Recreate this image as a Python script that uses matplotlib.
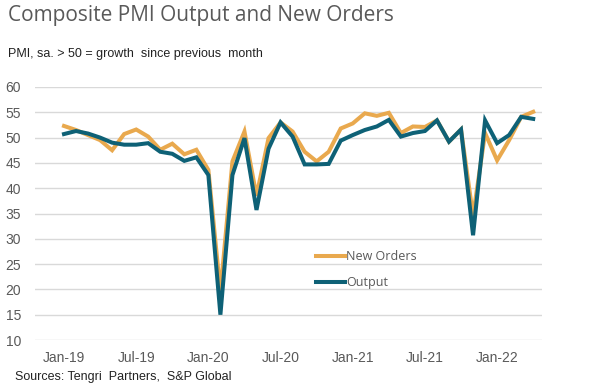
import matplotlib
matplotlib.use("Agg")
import matplotlib.pyplot as plt

months = ["Jan-19","Feb-19","Mar-19","Apr-19","May-19","Jun-19","Jul-19","Aug-19","Sep-19","Oct-19","Nov-19","Dec-19",
          "Jan-20","Feb-20","Mar-20","Apr-20","May-20","Jun-20","Jul-20","Aug-20","Sep-20","Oct-20","Nov-20","Dec-20",
          "Jan-21","Feb-21","Mar-21","Apr-21","May-21","Jun-21","Jul-21","Aug-21","Sep-21","Oct-21","Nov-21","Dec-21",
          "Jan-22","Feb-22","Mar-22","Apr-22"]

new_orders = [52.3, 51.5, 50.5, 49.5, 47.5, 50.7, 51.6, 50.2, 47.6, 48.8, 46.7, 47.6,
              43.6, 19.5, 45.3, 51.2, 38.5, 49.9, 53.0, 51.2, 47.2, 45.3, 47.2, 51.8,
              52.8, 54.8, 54.3, 54.9, 50.9, 52.2, 52.1, 53.4, 49.2, 51.6, 34.5, 50.9,
              45.5, 49.5, 54.1, 55.1]

output = [50.7, 51.3, 50.8, 50.0, 49.0, 48.6, 48.6, 48.9, 47.2, 46.8, 45.4, 46.1,
          42.6, 15.0, 42.6, 49.9, 35.7, 47.8, 53.0, 50.2, 44.7, 44.7, 44.8, 49.4,
          50.5, 51.5, 52.2, 53.5, 50.2, 50.9, 51.3, 53.4, 49.2, 51.6, 30.7, 53.4,
          48.9, 50.5, 54.1, 53.7]

yticks = [10, 15, 20, 25, 30, 35, 40, 45, 50, 55, 60]
xtick_labels = ["Jan-19", "Jul-19", "Jan-20", "Jul-20", "Jan-21", "Jul-21", "Jan-22"]

orange = "#E9A94E"
teal = "#0E6176"
gray_text = "#595959"

W, H = 591, 391
fig = plt.figure(figsize=(W / 100, H / 100), dpi=100)
ax = fig.add_axes([35 / W, 1 - 340 / H, 507 / W, 253 / H])

x = list(range(len(months)))
ax.plot(x, new_orders, color=orange, lw=2.9, label="New Orders", solid_joinstyle="miter", zorder=3)
ax.plot(x, output, color=teal, lw=2.9, label="Output", solid_joinstyle="miter", zorder=4)

ax.set_ylim(10, 60)
ax.set_xlim(-2.41, 39.73)
ax.set_yticks(yticks)
ax.set_yticklabels([str(v) for v in yticks])
xt = [months.index(m) for m in xtick_labels]
ax.set_xticks(xt)
ax.set_xticklabels(xtick_labels)

ax.grid(axis="y", color="#D9D9D9", lw=1.0)
ax.set_axisbelow(True)
for s in ax.spines.values():
    s.set_visible(False)
ax.tick_params(axis="both", length=0, colors=gray_text, labelsize=10)
ax.tick_params(axis="y", pad=10)
ax.tick_params(axis="x", pad=8)
for lab in ax.get_xticklabels() + ax.get_yticklabels():
    lab.set_fontfamily("Liberation Sans")

leg = ax.legend(loc="upper left", bbox_to_anchor=((305 - 35) / 507, (340 - 239) / 253),
                frameon=False, handlelength=2.3, handletextpad=0.1, labelspacing=1.05,
                prop={"family": "Open Sans", "size": 9})
for t in leg.get_texts():
    t.set_color(gray_text)

fig.text(8 / W, 1 - 15 / H, "Composite PMI Output and New Orders", fontsize=15,
         family="Open Sans", color=gray_text, va="center", ha="left")
fig.text(8 / W, 1 - 54 / H, "PMI, sa. > 50 = growth  since previous  month", fontsize=9,
         family="Liberation Sans", color="#222222", va="center", ha="left")
fig.text(15 / W, 1 - 377 / H, "Sources: Tengri  Partners,  S&P Global", fontsize=9,
         family="Liberation Sans", color="#222222", va="center", ha="left")

fig.savefig("out.png", dpi=100)
